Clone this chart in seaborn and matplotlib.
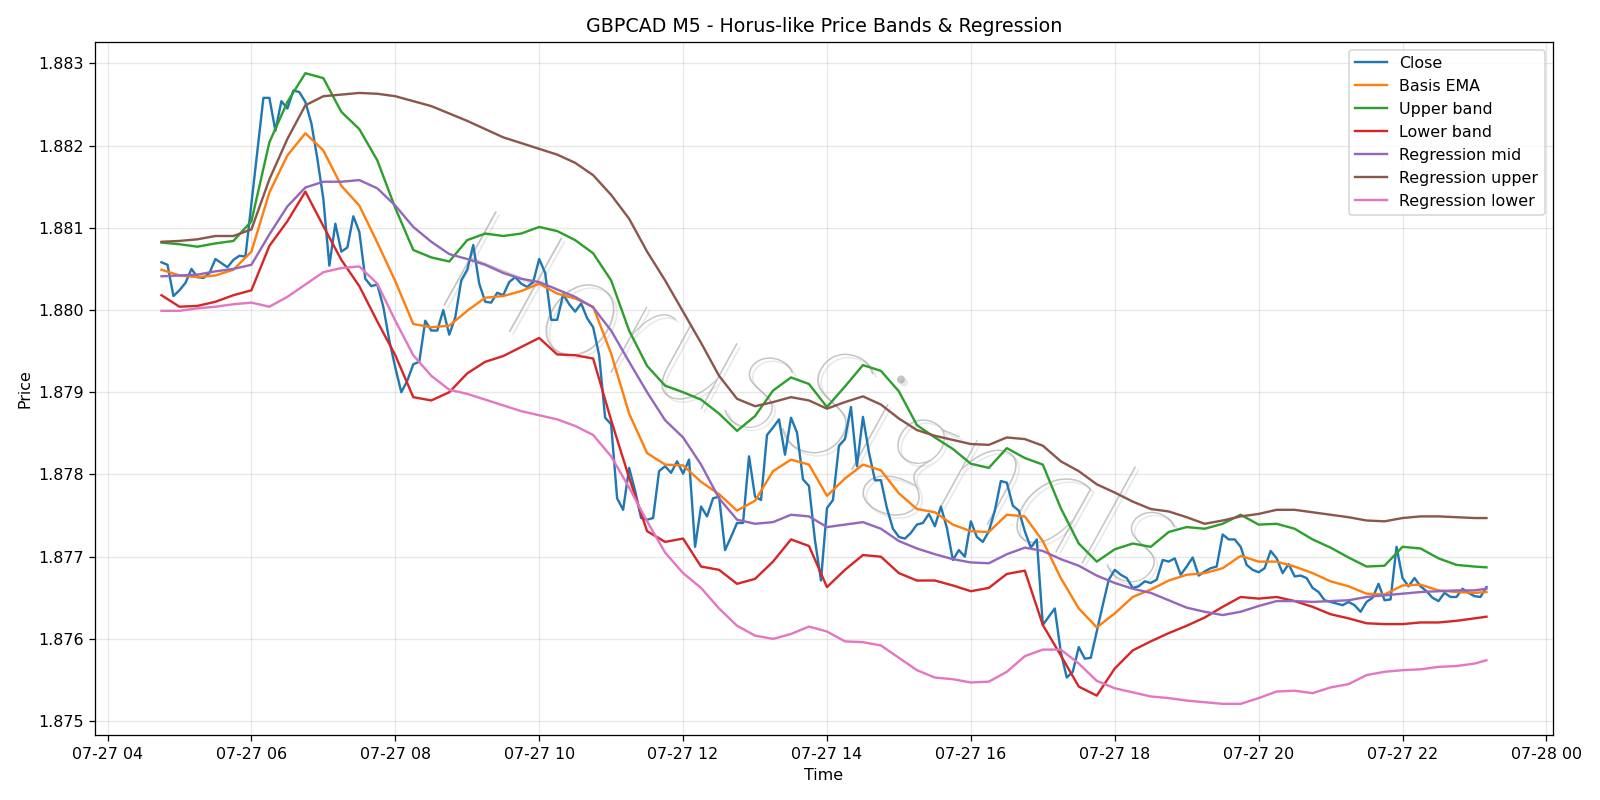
import matplotlib
matplotlib.use("Agg")
import matplotlib.patheffects as pe
import matplotlib.pyplot as plt
import pandas as pd
import seaborn as sns

# 5-minute closes, 04:45 -> 23:10
close_times = pd.date_range("2025-07-27 04:45", periods=222, freq="5min")
close = [
    1.88058, 1.88055, 1.88017, 1.88024, 1.88033, 1.88050, 1.88040, 1.88039, 1.88045, 1.88062,
    1.88057, 1.88052, 1.88061, 1.88066, 1.88065, 1.88129, 1.88194, 1.88258, 1.88258, 1.88218,
    1.88254, 1.88245, 1.88267, 1.88265, 1.88253, 1.88227, 1.88184, 1.88135, 1.88054, 1.88105,
    1.88071, 1.88076, 1.88114, 1.88095, 1.88038, 1.88029, 1.88031, 1.88004, 1.87963, 1.87930,
    1.87900, 1.87914, 1.87934, 1.87937, 1.87987, 1.87975, 1.87975, 1.88000, 1.87970, 1.87991,
    1.88036, 1.88049, 1.88079, 1.88032, 1.88010, 1.88009, 1.88021, 1.88018, 1.88034, 1.88040,
    1.88032, 1.88028, 1.88034, 1.88062, 1.88045, 1.87988, 1.87988, 1.88019, 1.88007, 1.87998,
    1.88008, 1.87990, 1.87979, 1.87945, 1.87869, 1.87861, 1.87771, 1.87757, 1.87808, 1.87780,
    1.87747, 1.87745, 1.87747, 1.87804, 1.87810, 1.87802, 1.87816, 1.87801, 1.87818, 1.87712,
    1.87761, 1.87749, 1.87771, 1.87773, 1.87708, 1.87724, 1.87741, 1.87741, 1.87822, 1.87773,
    1.87769, 1.87848, 1.87857, 1.87867, 1.87824, 1.87869, 1.87851, 1.87794, 1.87786, 1.87720,
    1.87671, 1.87759, 1.87769, 1.87835, 1.87843, 1.87882, 1.87810, 1.87870, 1.87827, 1.87793,
    1.87793, 1.87759, 1.87734, 1.87724, 1.87722, 1.87729, 1.87739, 1.87741, 1.87752, 1.87737,
    1.87761, 1.87735, 1.87696, 1.87708, 1.87700, 1.87743, 1.87724, 1.87718, 1.87731, 1.87756,
    1.87792, 1.87790, 1.87762, 1.87756, 1.87731, 1.87711, 1.87721, 1.87617, 1.87627, 1.87637,
    1.87584, 1.87553, 1.87560, 1.87590, 1.87576, 1.87577, 1.87609, 1.87641, 1.87672, 1.87684,
    1.87678, 1.87674, 1.87662, 1.87664, 1.87670, 1.87668, 1.87672, 1.87696, 1.87694, 1.87698,
    1.87678, 1.87688, 1.87699, 1.87677, 1.87682, 1.87686, 1.87688, 1.87727, 1.87721, 1.87721,
    1.87712, 1.87690, 1.87684, 1.87681, 1.87686, 1.87707, 1.87698, 1.87680, 1.87691, 1.87676,
    1.87677, 1.87674, 1.87662, 1.87657, 1.87647, 1.87645, 1.87643, 1.87641, 1.87645, 1.87641,
    1.87633, 1.87645, 1.87650, 1.87667, 1.87647, 1.87648, 1.87712, 1.87674, 1.87664, 1.87674,
    1.87664, 1.87658, 1.87650, 1.87646, 1.87656, 1.87651, 1.87651, 1.87661, 1.87656, 1.87652,
    1.87651, 1.87663,
]

# band / regression values read every 15 minutes (plus the last bar)
band_times = pd.date_range("2025-07-27 04:45", "2025-07-27 23:00", freq="15min").append(
    pd.DatetimeIndex(["2025-07-27 23:10"])
)
basis_ema = [
    1.88049, 1.88042, 1.88040, 1.88042, 1.88049, 1.88071, 1.88143, 1.88188, 1.88215, 1.88194,
    1.88151, 1.88127, 1.88082, 1.88035, 1.87983, 1.87979, 1.87981, 1.87999, 1.88015, 1.88017,
    1.88023, 1.88032, 1.88020, 1.88014, 1.88004, 1.87947, 1.87874, 1.87826, 1.87812, 1.87811,
    1.87791, 1.87776, 1.87756, 1.87768, 1.87804, 1.87818, 1.87812, 1.87774, 1.87795, 1.87812,
    1.87805, 1.87777, 1.87758, 1.87754, 1.87739, 1.87731, 1.87730, 1.87751, 1.87749, 1.87719,
    1.87674, 1.87637, 1.87614, 1.87631, 1.87651, 1.87660, 1.87671, 1.87678, 1.87680, 1.87686,
    1.87701, 1.87694, 1.87694, 1.87688, 1.87680, 1.87670, 1.87664, 1.87655, 1.87654, 1.87665,
    1.87666, 1.87659, 1.87657, 1.87656, 1.87657,
]
upper_band = [
    1.88082, 1.88080, 1.88077, 1.88081, 1.88084, 1.88108, 1.88204, 1.88253, 1.88288, 1.88282,
    1.88241, 1.88220, 1.88182, 1.88124, 1.88073, 1.88064, 1.88059, 1.88085, 1.88093, 1.88090,
    1.88093, 1.88101, 1.88096, 1.88085, 1.88069, 1.88036, 1.87975, 1.87932, 1.87908, 1.87900,
    1.87891, 1.87874, 1.87853, 1.87871, 1.87902, 1.87918, 1.87910, 1.87882, 1.87907, 1.87933,
    1.87926, 1.87901, 1.87860, 1.87845, 1.87831, 1.87813, 1.87808, 1.87832, 1.87820, 1.87812,
    1.87759, 1.87716, 1.87694, 1.87709, 1.87716, 1.87712, 1.87730, 1.87736, 1.87734, 1.87740,
    1.87751, 1.87739, 1.87740, 1.87734, 1.87721, 1.87711, 1.87699, 1.87688, 1.87689, 1.87712,
    1.87710, 1.87698, 1.87690, 1.87688, 1.87687,
]
lower_band = [
    1.88018, 1.88004, 1.88005, 1.88010, 1.88018, 1.88024, 1.88078, 1.88108, 1.88144, 1.88102,
    1.88061, 1.88029, 1.87986, 1.87945, 1.87894, 1.87890, 1.87900, 1.87923, 1.87937, 1.87944,
    1.87955, 1.87966, 1.87946, 1.87945, 1.87941, 1.87866, 1.87796, 1.87731, 1.87718, 1.87722,
    1.87688, 1.87684, 1.87667, 1.87673, 1.87694, 1.87721, 1.87713, 1.87663, 1.87684, 1.87702,
    1.87700, 1.87680, 1.87671, 1.87671, 1.87665, 1.87658, 1.87662, 1.87679, 1.87683, 1.87617,
    1.87580, 1.87542, 1.87531, 1.87564, 1.87586, 1.87597, 1.87607, 1.87616, 1.87626, 1.87639,
    1.87651, 1.87649, 1.87651, 1.87646, 1.87639, 1.87630, 1.87625, 1.87619, 1.87618, 1.87618,
    1.87620, 1.87620, 1.87622, 1.87625, 1.87627,
]
reg_mid = [
    1.88041, 1.88042, 1.88043, 1.88047, 1.88050, 1.88055, 1.88092, 1.88126, 1.88149, 1.88156,
    1.88156, 1.88158, 1.88148, 1.88127, 1.88101, 1.88083, 1.88068, 1.88062, 1.88055, 1.88045,
    1.88038, 1.88034, 1.88025, 1.88016, 1.88003, 1.87975, 1.87937, 1.87900, 1.87866, 1.87845,
    1.87812, 1.87771, 1.87745, 1.87740, 1.87742, 1.87751, 1.87749, 1.87736, 1.87739, 1.87742,
    1.87734, 1.87719, 1.87710, 1.87703, 1.87697, 1.87693, 1.87692, 1.87703, 1.87711, 1.87707,
    1.87697, 1.87689, 1.87677, 1.87668, 1.87661, 1.87656, 1.87647, 1.87638, 1.87633, 1.87629,
    1.87633, 1.87640, 1.87646, 1.87646, 1.87645, 1.87646, 1.87647, 1.87651, 1.87653, 1.87655,
    1.87657, 1.87658, 1.87659, 1.87659, 1.87661,
]
reg_upper = [
    1.88083, 1.88084, 1.88086, 1.88090, 1.88090, 1.88098, 1.88159, 1.88208, 1.88249, 1.88260,
    1.88262, 1.88264, 1.88263, 1.88260, 1.88254, 1.88248, 1.88239, 1.88230, 1.88220, 1.88210,
    1.88203, 1.88196, 1.88189, 1.88179, 1.88164, 1.88140, 1.88111, 1.88071, 1.88036, 1.87998,
    1.87960, 1.87920, 1.87892, 1.87883, 1.87888, 1.87894, 1.87890, 1.87880, 1.87888, 1.87895,
    1.87885, 1.87868, 1.87854, 1.87847, 1.87842, 1.87837, 1.87836, 1.87845, 1.87843, 1.87835,
    1.87816, 1.87804, 1.87788, 1.87778, 1.87767, 1.87758, 1.87755, 1.87748, 1.87740, 1.87744,
    1.87749, 1.87752, 1.87757, 1.87757, 1.87754, 1.87751, 1.87748, 1.87744, 1.87743, 1.87747,
    1.87749, 1.87749, 1.87748, 1.87747, 1.87747,
]
reg_lower = [
    1.87999, 1.87999, 1.88002, 1.88004, 1.88007, 1.88009, 1.88004, 1.88016, 1.88031, 1.88046,
    1.88051, 1.88053, 1.88032, 1.87987, 1.87945, 1.87920, 1.87903, 1.87898, 1.87891, 1.87884,
    1.87877, 1.87872, 1.87867, 1.87859, 1.87848, 1.87822, 1.87784, 1.87743, 1.87705, 1.87680,
    1.87662, 1.87637, 1.87616, 1.87604, 1.87600, 1.87606, 1.87615, 1.87609, 1.87597, 1.87596,
    1.87592, 1.87577, 1.87562, 1.87553, 1.87551, 1.87547, 1.87548, 1.87560, 1.87579, 1.87587,
    1.87587, 1.87570, 1.87549, 1.87540, 1.87535, 1.87530, 1.87528, 1.87525, 1.87523, 1.87521,
    1.87521, 1.87528, 1.87536, 1.87537, 1.87534, 1.87541, 1.87545, 1.87556, 1.87560, 1.87562,
    1.87563, 1.87566, 1.87567, 1.87570, 1.87574,
]

series = [
    ("Basis EMA", basis_ema, "C1"),
    ("Upper band", upper_band, "C2"),
    ("Lower band", lower_band, "C3"),
    ("Regression mid", reg_mid, "C4"),
    ("Regression upper", reg_upper, "C5"),
    ("Regression lower", reg_lower, "C6"),
]

fig, ax = plt.subplots(figsize=(14, 7), dpi=1600 / 14)

sns.lineplot(x=close_times, y=close, label="Close", color="C0", linewidth=1.5, ax=ax)
for name, values, color in series:
    sns.lineplot(x=band_times, y=values, label=name, color=color, linewidth=1.5, ax=ax)

# watermark
ax.text(
    0.49,
    0.47,
    "HorusSignals",
    transform=ax.transAxes,
    rotation=-22,
    fontsize=96,
    family="Lato",
    weight="light",
    style="italic",
    color="gray",
    alpha=0.45,
    ha="center",
    va="center",
    zorder=0,
    path_effects=[pe.withSimplePatchShadow(offset=(2, -2), shadow_rgbFace="lightgray", alpha=0.5)],
)

ax.set_title("GBPCAD M5 - Horus-like Price Bands & Regression")
ax.set_xlabel("Time")
ax.set_ylabel("Price")
ax.legend(loc="upper right")
ax.grid(True, alpha=0.3)

plt.tight_layout()
plt.savefig("out.png", dpi=1600 / 14)
plt.close()
